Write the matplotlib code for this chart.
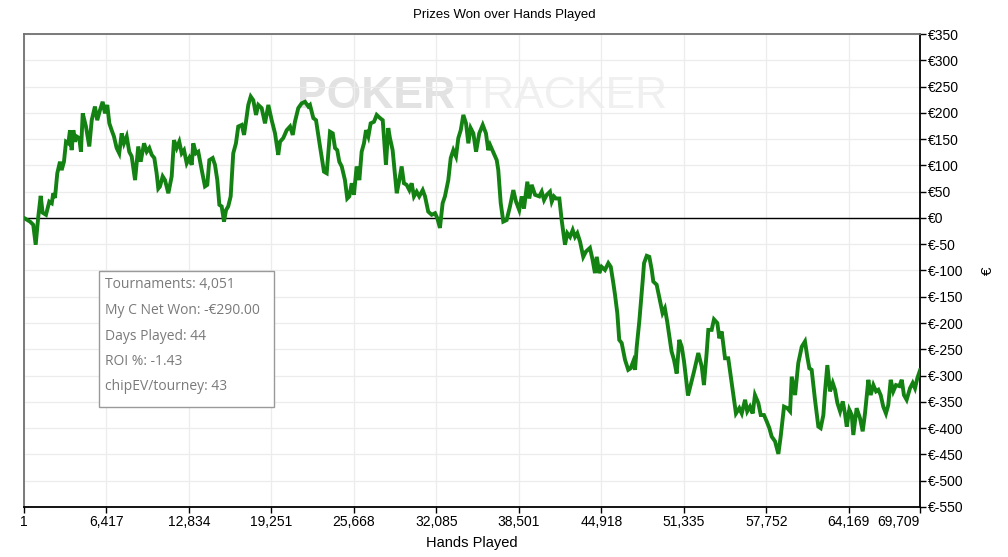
import matplotlib
matplotlib.use("Agg")
import matplotlib.pyplot as plt
from matplotlib.patches import FancyBboxPatch

plt.rcParams['font.family'] = ['Liberation Sans', 'DejaVu Sans']

# cumulative prizes won (EUR) against hands played
hands = [
    1, 470, 720, 910, 1110, 1300, 1450, 1710, 1970, 2160, 2280, 2410, 2590, 2800, 2930,
    3110, 3270, 3450, 3580, 3710, 3840, 3970, 4100, 4300, 4430, 4570, 4820, 5080, 5270,
    5520, 5700, 5910, 6120, 6300, 6480, 6640, 6820, 7000, 7210, 7410, 7600, 7780, 7990,
    8190, 8380, 8640, 8890, 9080, 9340, 9550, 9750, 9940, 10140, 10320, 10450, 10580,
    10790, 10970, 11230, 11490, 11670, 11880, 12080, 12270, 12450, 12660, 12860, 13050,
    13170, 13380, 13560, 13830, 14080, 14260, 14420, 14680, 14860, 15040, 15200, 15380,
    15560, 15720, 15890, 16080, 16280, 16490, 16670, 16940, 17120, 17270, 17450, 17640,
    17840, 18050, 18230, 18490, 18750, 19010, 19270, 19530, 19780, 19920, 20170, 20440,
    20700, 20910, 21080, 21340, 21600, 21860, 22120, 22250, 22510, 22720, 23030, 23340,
    23550, 23810, 24020, 24200, 24370, 24530, 24720, 24970, 25150, 25310, 25500, 25670,
    25880, 26090, 26270, 26450, 26610, 26790, 26970, 27230, 27440, 27700, 27910, 28160,
    28340, 28470, 28680, 29000, 29200, 29380, 29560, 29770, 29980, 30160, 30340, 30550,
    30750, 31020, 31200, 31450, 31720, 31980, 32150, 32360, 32570, 32750, 33010, 33200,
    33400, 33610, 33790, 33980, 34180, 34390, 34570, 34750, 34960, 35170, 35420, 35690,
    35940, 36120, 36260, 36780, 36900, 37090, 37290, 37550, 37810, 38070, 38280, 38530,
    38720, 38900, 39160, 39310, 39500, 39760, 40090, 40280, 40460, 40670, 40920, 41060,
    41230, 41390, 41650, 41830, 42090, 42270, 42480, 42690, 42870, 43050, 43260, 43510,
    43720, 44030, 44240, 44420, 44560, 44760, 44940, 45200, 45460, 45650, 45850, 45980,
    46160, 46310, 46500, 46760, 47010, 47200, 47400, 47540, 47670, 47870, 48140, 48240,
    48450, 48650, 48840, 48960, 49220, 49470, 49680, 49860, 50040, 50250, 50380, 50570,
    50780, 50980, 51170, 51350, 51660, 52130, 52460, 52730, 52900, 53110, 53240, 53500,
    53680, 53940, 54100, 54280, 54540, 54790, 55060, 55390, 55650, 55840, 56100, 56270,
    56480, 56690, 56870, 57130, 57320, 57570, 57780, 57990, 58170, 58430, 58690, 58870,
    59130, 59390, 59600, 59730, 59990, 60240, 60510, 60760, 60940, 61100, 61280, 61540,
    61800, 61980, 62190, 62320, 62500, 62710, 62920, 63100, 63280, 63490, 63700, 63870,
    64010, 64210, 64400, 64520, 64780, 65040, 65250, 65430, 65690, 65870, 66080, 66290,
    66470, 66650, 66850, 67060, 67240, 67430, 67630, 67840, 68100, 68290, 68460, 68670,
    68930, 69140, 69320, 69500, 69709,
]
won = [
    0, -7, -13, -51, 2, 42, 10, 6, 31, 28, 47, 38, 85, 107, 91,
    107, 145, 142, 167, 129, 167, 145, 155, 152, 126, 199, 174, 136, 186,
    212, 186, 205, 221, 199, 215, 180, 167, 155, 133, 123, 161, 142, 155,
    126, 117, 72, 136, 107, 142, 126, 133, 120, 114, 85, 56, 60,
    79, 72, 47, 79, 148, 133, 145, 123, 129, 104, 114, 101,
    142, 123, 126, 91, 60, 63, 110, 114, 101, 72, 25, 22,
    -7, 15, 22, 41, 123, 142, 174, 177, 158, 183, 215, 231,
    224, 196, 215, 209, 180, 215, 186, 161, 120, 145, 152, 167,
    174, 158, 183, 209, 218, 221, 212, 215, 190, 186, 136, 88,
    85, 164, 161, 133, 129, 107, 98, 72, 37, 41, 66, 44,
    98, 72, 126, 142, 167, 155, 180, 183, 196, 190, 186, 101,
    171, 152, 129, 47, 72, 98, 66, 63, 53, 66, 41, 50,
    41, 53, 41, 12, 6, 9, 0, -19, 28, 41, 72, 114,
    129, 117, 152, 167, 196, 180, 142, 171, 161, 126, 161, 177,
    161, 129, 139, 110, 91, 28, -7, -4, 22, 53, 31, 15,
    41, 18, 69, 37, 63, 44, 41, 50, 34, 44, 50, 31,
    41, 37, 37, -4, -51, -29, -36, -23, -36, -29, -45, -74,
    -64, -57, -80, -105, -74, -105, -93, -99, -86, -93, -124, -146,
    -181, -232, -238, -270, -289, -286, -273, -289, -245, -197, -118, -86,
    -72, -74, -99, -121, -127, -156, -181, -172, -197, -232, -254, -270,
    -296, -232, -245, -273, -338, -292, -257, -283, -318, -257, -213, -213,
    -193, -200, -229, -216, -267, -267, -314, -372, -362, -372, -346, -368,
    -359, -372, -337, -352, -375, -375, -387, -400, -416, -425, -449, -416,
    -359, -362, -368, -302, -337, -276, -245, -235, -264, -286, -289, -346,
    -397, -400, -375, -330, -280, -330, -314, -327, -352, -368, -349, -372,
    -397, -365, -375, -413, -362, -381, -406, -372, -308, -337, -318, -330,
    -327, -337, -359, -372, -356, -308, -330, -318, -320, -308, -337, -346,
    -324, -314, -324, -305, -290,
]

x_ticks = [1, 6417, 12834, 19251, 25668, 32085, 38501, 44918, 51335, 57752, 64169, 69709]
y_ticks = list(range(-550, 351, 50))

stats_lines = [
    "Tournaments: 4,051",
    "My C Net Won: -€290.00",
    "Days Played: 44",
    "ROI %: -1.43",
    "chipEV/tourney: 43",
]

fig = plt.figure(figsize=(10.08, 5.57), dpi=100)
ax = fig.add_axes([24 / 1008, 1 - 507 / 557, 896 / 1008, 473 / 557])

ax.plot(hands, won, color='#138213', linewidth=2.8, solid_joinstyle='miter', zorder=3)
ax.axhline(0, color='black', linewidth=1.0, zorder=2)

ax.set_xlim(1, 69709)
ax.set_ylim(-550, 350)
ax.set_xticks(x_ticks)
ax.set_xticklabels([f"{t:,}" for t in x_ticks], fontsize=10)
ax.get_xticklabels()[-1].set_horizontalalignment('right')
ax.yaxis.tick_right()
ax.yaxis.set_label_position('right')
ax.set_yticks(y_ticks)
ax.set_yticklabels([f"€{t}" for t in y_ticks], fontsize=10)
ax.tick_params(axis='both', direction='out', length=4, width=1, colors='black', pad=2)
ax.grid(True, color='#ececec', linewidth=0.9, zorder=0)

for side in ('top', 'left'):
    ax.spines[side].set_color('#707070')
    ax.spines[side].set_linewidth(1.3)
for side in ('right', 'bottom'):
    ax.spines[side].set_color('black')
    ax.spines[side].set_linewidth(1.3)

fig.text(0.5, 1 - 15 / 557, "Prizes Won over Hands Played", ha='center', va='center', fontsize=9.5)
ax.set_xlabel("Hands Played", fontsize=10.5, labelpad=5)
ax.set_ylabel("€", fontsize=11, rotation=90, labelpad=12)

# faded watermark
ax.text(0.481, 0.867, "POKER", transform=ax.transAxes, ha='right', va='center',
        fontsize=32, fontweight='bold', color='#e2e2e2', zorder=1)
ax.text(0.481, 0.867, "TRACKER", transform=ax.transAxes, ha='left', va='center',
        fontsize=32, color='#f0f0f0', zorder=1)

# stats box
box_x0, box_y0 = (99 - 24) / 896, (507 - 407) / 473
box_w, box_h = 175 / 896, 136 / 473
ax.add_patch(FancyBboxPatch((box_x0, box_y0), box_w, box_h, boxstyle='square,pad=0',
                            transform=ax.transAxes, facecolor='white',
                            edgecolor='#9a9a9a', linewidth=1.0, zorder=4))
for i, line in enumerate(stats_lines):
    ax.text(box_x0 + 6 / 896, box_y0 + box_h - (14 + i * 25.5) / 473, line,
            transform=ax.transAxes, ha='left', va='center', fontsize=10,
            color='#7a7a7a', zorder=5, family=['Open Sans', 'DejaVu Sans'])

fig.savefig("out.png", dpi=100)
